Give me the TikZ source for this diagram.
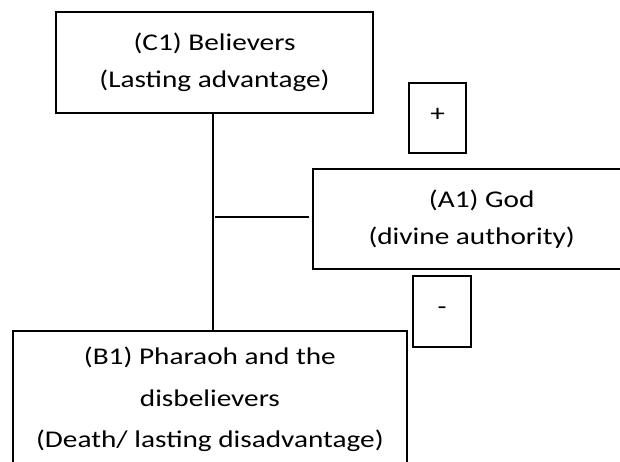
\documentclass[tikz,border=0pt]{standalone}
\usepackage{fontspec}
\setmainfont{Carlito}[FakeStretch=1.22]
\usepackage{tikz}
\usetikzlibrary{calc}
\tikzset{
	party/.style={
			draw, line width=2pt, inner sep=0pt, align=center,
			font=\fontsize{24}{37}\selectfont
		},
	signbox/.style={
			draw, line width=2pt, inner sep=0pt,
			font=\fontsize{24}{28}\selectfont, text depth=0pt
		}
}

\begin{document}
\begin{tikzpicture}[x=1pt,y=-1pt]
        \useasboundingbox (0, 0) rectangle (620, 462);
        \clip (0, 0) rectangle (620, 462);
        \node[party,minimum width=317pt,minimum height=101pt] (c_1) at (214.5, 62.2) {(C1) Believers\\(Lasting advantage)};
        \node[party,minimum width=316.7pt,minimum height=100pt] (a_1) at (471.7, 219) {\hspace*{20pt}(A1) God\\(divine authority)};
        \node[party,minimum width=394.3pt,minimum height=137pt,font=\fontsize{24}{41.5}\selectfont] (b_1) at (209.9, 399.5) {(B1) Pharaoh and the\\disbelievers\\(Death/ lasting disadvantage)};
        \node[signbox,minimum width=56.7pt,minimum height=69.4pt,text height=7.2pt] (plus_box) at (437.7, 118) {+};
        \node[signbox,minimum width=57.4pt,minimum height=70.7pt,text height=5.4pt] (minus_box) at (442, 311.3) {-};
        \coordinate (joint) at (212.7, 217.3);
        \draw[line width=2pt] (joint |- c_1.south) -- (joint |- b_1.north);
        \draw[line width=2pt] ($(joint)+(2.3, 0)$) -- ($(a_1.west |- joint)+(-3.3, 0)$);
    \end{tikzpicture}
\end{document}
